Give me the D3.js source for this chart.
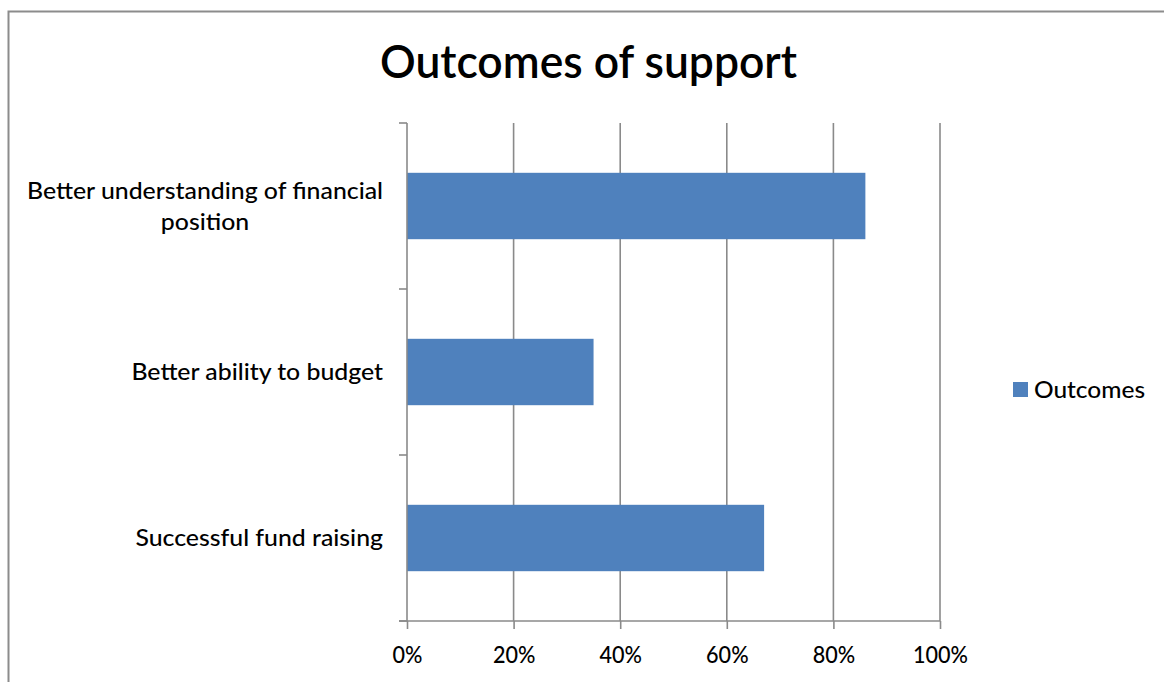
<!DOCTYPE html>
<html>
<head>
<meta charset="utf-8">
<script src="https://cdn.jsdelivr.net/npm/d3@7"></script>
<style>
  html, body { margin: 0; padding: 0; background: #fff; }
  svg { display: block; }
  text { font-family: Lato, "Open Sans", sans-serif; fill: #000; font-weight: 500; }
  text.title { font-weight: 600; }
</style>
</head>
<body>
<svg id="chart" width="1164" height="682"></svg>
<script>
// Survey results: share of respondents reporting each outcome
const categories = [
  "Better understanding of financial position",
  "Better ability to budget",
  "Successful fund raising"
];
const categoryLines = [
  ["Better understanding of financial", "position"],
  ["Better ability to budget"],
  ["Successful fund raising"]
];
const values = [0.86, 0.35, 0.67];
const tickValues = [0, 0.2, 0.4, 0.6, 0.8, 1.0];
const tickLabels = ["0%", "20%", "40%", "60%", "80%", "100%"];
const seriesName = "Outcomes";
const titleText = "Outcomes of support";

const W = 1164, H = 682;
const plot = { left: 407, right: 940, top: 123, bottom: 621 };
const barColor = "#4f81bd";
const gridColor = "#8a8a8a";

const svg = d3.select("#chart");

// stretch/condense a group of texts by a common factor so the widest one spans `target` px
function fitGroup(sel, target) {
  const nodes = sel.nodes();
  const widths = nodes.map(n => n.getComputedTextLength());
  const k = target / d3.max(widths);
  nodes.forEach((n, i) => {
    n.setAttribute("textLength", widths[i] * k);
    n.setAttribute("lengthAdjust", "spacingAndGlyphs");
  });
  return k;
}

// outer chart frame
svg.append("rect")
  .attr("x", 8.5).attr("y", 11.5)
  .attr("width", W + 20).attr("height", H + 20)
  .attr("fill", "#fff")
  .attr("stroke", "#8c8c8c").attr("stroke-width", 2);

const x = d3.scaleLinear().domain([0, 1]).range([plot.left, plot.right]);
const y = d3.scaleBand().domain(categories).range([plot.top, plot.bottom])
  .paddingInner(0.6).paddingOuter(0.3);
const yBand = d3.scaleBand().domain(categories).range([plot.top, plot.bottom]);

// vertical gridlines
svg.append("g").selectAll("line")
  .data(tickValues.slice(1))
  .join("line")
  .attr("x1", d => x(d)).attr("x2", d => x(d))
  .attr("y1", plot.top).attr("y2", plot.bottom)
  .attr("stroke", gridColor).attr("stroke-width", 1.6);

// bars
svg.append("g").selectAll("rect")
  .data(categories)
  .join("rect")
  .attr("x", x(0))
  .attr("y", d => y(d))
  .attr("width", (d, i) => x(values[i]) - x(0))
  .attr("height", y.bandwidth())
  .attr("fill", barColor);

// bottom axis
const xAxis = d3.axisBottom(x)
  .tickValues(tickValues)
  .tickFormat((d, i) => tickLabels[i])
  .tickSize(8)
  .tickSizeOuter(0)
  .tickPadding(18);
const gx = svg.append("g")
  .attr("transform", `translate(0,${plot.bottom})`)
  .call(xAxis);
gx.select(".domain").attr("stroke", gridColor).attr("stroke-width", 1.6)
  .attr("d", `M${plot.left - 8},0H${plot.right}`);
gx.selectAll(".tick line").attr("stroke", gridColor).attr("stroke-width", 1.6);
gx.selectAll(".tick text")
  .style("font-family", "Lato, 'Open Sans', sans-serif")
  .style("font-weight", 500)
  .style("font-size", "23px")
  .attr("fill", "#000");
fitGroup(gx.selectAll(".tick text"), 55);

// left axis with ticks at category boundaries
const boundaries = categories.map(c => yBand(c)).concat([plot.bottom]);
svg.append("line")
  .attr("x1", plot.left).attr("x2", plot.left)
  .attr("y1", plot.top).attr("y2", plot.bottom)
  .attr("stroke", gridColor).attr("stroke-width", 1.6);
svg.append("g").selectAll("line")
  .data(boundaries)
  .join("line")
  .attr("x1", plot.left - 8).attr("x2", plot.left)
  .attr("y1", d => d).attr("y2", d => d)
  .attr("stroke", gridColor).attr("stroke-width", 1.6);

// category labels (wrapped, centred within a right-aligned block)
const lineH = 31;
const labelG = svg.append("g");
const blocks = categories.map((c, i) => {
  const lines = categoryLines[i];
  const cy = yBand(c) + yBand.bandwidth() / 2;
  return lines.map((ln, j) => labelG.append("text")
    .attr("y", cy + (j - (lines.length - 1) / 2) * lineH)
    .attr("dy", "0.36em")
    .attr("font-size", 22.5)
    .attr("text-anchor", "middle")
    .text(ln));
});
fitGroup(labelG.selectAll("text"), 356);
blocks.forEach(texts => {
  const maxW = d3.max(texts, t => +t.attr("textLength"));
  texts.forEach(t => t.attr("x", 383 - maxW / 2));
});

// title
const title = svg.append("text")
  .attr("class", "title")
  .attr("x", 588.5).attr("y", 78)
  .attr("text-anchor", "middle")
  .attr("font-size", 47)
  .text(titleText);
fitGroup(title, 417);

// legend
const legend = svg.append("g").attr("transform", "translate(1013,382)");
legend.append("rect").attr("width", 15).attr("height", 15).attr("fill", barColor);
const legText = legend.append("text")
  .attr("x", 21).attr("y", 8).attr("dy", "0.36em")
  .attr("font-size", 23)
  .text(seriesName);
fitGroup(legText, 111);
</script>
</body>
</html>
